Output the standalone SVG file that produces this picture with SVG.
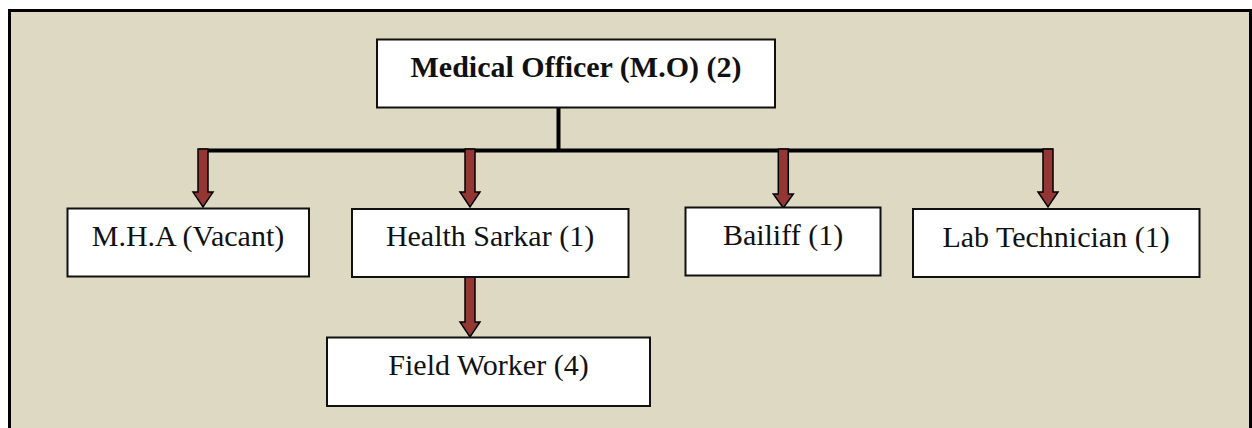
<svg xmlns="http://www.w3.org/2000/svg" width="1252" height="428" viewBox="0 0 1252 428">
  <style>
    .frame { fill: #DDD9C3; stroke: #000; stroke-width: 3; }
    .box { fill: #fff; stroke: #111; stroke-width: 2; }
    .label { font-family: "Liberation Serif", "Times New Roman", serif; font-size: 30px; fill: #111; text-anchor: middle; }
    .bold { font-weight: bold; }
    .bar { stroke: #000; stroke-width: 4; fill: none; }
    .arrow { fill: #943634; stroke: #000; stroke-width: 1.5; stroke-linejoin: miter; }
  </style>

  <!-- page panel -->
  <rect class="frame" x="9.5" y="10.5" width="1241" height="440"/>

  <!-- connectors: stem, distribution bar and down arrows -->
  <g id="connectors">
    <line class="bar" x1="558.5" y1="107" x2="558.5" y2="151"/>
    <line class="bar" x1="199" y1="150.5" x2="1053" y2="150.5"/>
    <polygon class="arrow" points="198,149 208,149 208,192 213,192 203,207 193,192 198,192"/>
    <polygon class="arrow" points="465,149 475,149 475,192 480,192 470,207 460,192 465,192"/>
    <polygon class="arrow" points="778.3,149 788.3,149 788.3,194 793.3,194 783.3,208 773.3,194 778.3,194"/>
    <polygon class="arrow" points="1043,149 1053,149 1053,192 1058,192 1048,207 1038,192 1043,192"/>
    <polygon class="arrow" points="465,277 475,277 475,322 480,322 470,337 460,322 465,322"/>
  </g>

  <g id="medical-officer">
    <rect class="box" x="377" y="39.5" width="398" height="68"/>
    <text class="label bold" x="576" y="77">Medical Officer (M.O) (2)</text>
  </g>

  <g id="mha">
    <rect class="box" x="67.5" y="208.5" width="241.5" height="68"/>
    <text class="label" x="188" y="246">M.H.A (Vacant)</text>
  </g>

  <g id="health-sarkar">
    <rect class="box" x="352" y="209" width="276.5" height="68"/>
    <text class="label" x="490" y="246">Health Sarkar (1)</text>
  </g>

  <g id="bailiff">
    <rect class="box" x="685.5" y="207.5" width="195" height="68"/>
    <text class="label" x="783" y="245">Bailiff (1)</text>
  </g>

  <g id="lab-technician">
    <rect class="box" x="913" y="209" width="286.5" height="68"/>
    <text class="label" x="1056" y="246.5">Lab Technician (1)</text>
  </g>

  <g id="field-worker">
    <rect class="box" x="327" y="337.5" width="323" height="68.5"/>
    <text class="label" x="488.5" y="375">Field Worker (4)</text>
  </g>
</svg>
